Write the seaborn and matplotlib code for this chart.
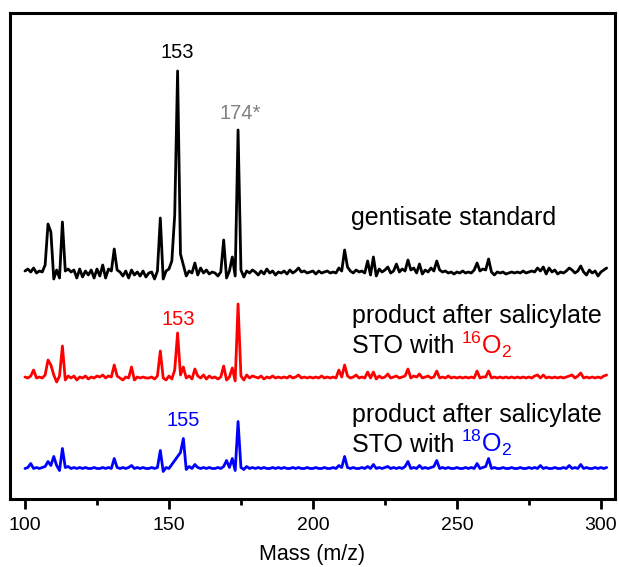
import numpy as np
import pandas as pd
import matplotlib
matplotlib.use("Agg")
import matplotlib.pyplot as plt
import seaborn as sns
from matplotlib.ticker import MultipleLocator

# m/z grid (1 unit steps)
mass = list(range(100, 303))

# relative ion intensities (a.u.)
gentisate = [
    2, 4, 1, 5, 0, 2, 1, 8, 49, 41,
    -6, 3, -5, 51, 2, 4, 1, 3, -5, 4,
    -4, 2, -2, 3, -5, 4, -3, 8, -5, 4,
    2, 24, 3, 1, -3, 2, -5, 3, -2, 1,
    -3, 2, -4, 0, 1, -6, 2, 55, -6, 2,
    4, 12, 58, 202, 19, 8, -3, 2, 0, 10,
    -2, 5, 0, 3, -1, 1, 0, -3, 1, 33,
    -5, 2, 16, -3, 143, 3, -4, 2, 0, 3,
    1, -2, 2, -1, 4, 0, 2, -2, 1, 0,
    2, -1, 3, 0, 2, 5, 1, 2, 0, 1,
    2, -1, 2, 0, 1, 2, 0, 1, 0, 5,
    2, 23, 6, 2, 0, 3, 1, 2, 0, 12,
    -2, 16, -3, 4, 1, 3, 6, 0, 2, 9,
    1, 4, 2, 13, 3, 5, 0, 9, -1, 3,
    1, 5, 2, 12, 3, 1, 2, 0, 1, -1,
    1, 0, 2, 0, 1, 0, 3, 10, 2, 4,
    3, 14, 1, -2, 1, 0, 1, -1, 0, 1,
    0, 1, 0, 2, 0, 1, 2, 1, 5, 2,
    6, -1, 5, 1, 3, -1, 1, 0, 2, 5,
    3, 0, 2, 7, 1, -2, 3, 0, 2, -3,
    1, 3, 5,
]

product_16o = [
    1, 0, 2, 8, 0, 1, 0, 3, 18, 13,
    3, -4, 2, 32, -2, 2, 0, 2, -2, 1,
    0, 2, -1, 1, 0, 2, 1, 3, 0, 2,
    1, 13, 2, 0, -2, 1, 0, 11, -2, 1,
    0, 1, 0, 0, 1, -1, 2, 27, 0, -2,
    2, -1, 8, 45, 3, 11, 0, 2, -1, 9,
    2, 0, 3, -1, 2, 0, 1, -1, 1, 12,
    -2, 1, 10, -3, 74, 2, -2, 3, 0, 2,
    1, 0, 2, -1, 1, 0, 2, 0, 1, 0,
    1, 0, 2, 0, 1, 3, 0, 1, 0, 1,
    0, 1, 0, 2, 0, 1, 0, 1, 0, 8,
    1, 13, 2, 0, 1, 3, 0, 1, 0, 6,
    0, 6, -1, 2, 0, 1, 4, 0, 1, 2,
    0, 1, 2, 9, 0, 2, 1, 4, 0, 1,
    2, 0, 1, 7, 0, 1, 0, 2, 0, 1,
    0, 1, 0, 1, 0, 1, 0, 7, 0, 1,
    1, 7, 0, 1, 0, 1, 0, 1, 0, 1,
    0, 1, 0, 1, 0, 1, 0, 2, 3, 0,
    3, 0, 1, 0, 1, 0, 1, 0, 1, 2,
    3, 0, 2, 5, 0, 1, 0, 1, 0, 1,
    0, 2, 3,
]

product_18o = [
    0, 1, 5, 0, 1, 0, 1, 2, 7, 3,
    12, 3, -2, 20, 1, 2, 0, 1, 0, 1,
    0, 1, 0, 0, 1, 0, 0, 1, 0, 1,
    0, 10, 1, 0, 1, 0, 1, 3, 0, 1,
    0, 1, 0, 0, 1, 0, 1, 18, -3, 1,
    0, 4, 8, 12, 16, 30, -1, 2, 0, 4,
    1, 0, 1, 0, 1, 0, 0, 1, 0, 2,
    8, 1, 10, -2, 47, 1, -1, 2, 0, 1,
    0, 1, 0, 1, 0, 0, 1, 0, 1, 0,
    1, 0, 0, 1, 0, 1, 0, 0, 1, 0,
    0, 1, 0, 0, 1, 0, 0, 1, 0, 3,
    1, 12, 1, 0, 1, 0, 0, 1, 0, 2,
    0, 4, 0, 1, 0, 1, 2, 0, 1, 0,
    1, 0, 2, 7, 0, 1, 0, 3, 0, 1,
    0, 1, 2, 8, 0, 1, 0, 1, 0, 0,
    1, 0, 0, 1, 0, 1, 0, 5, 0, 1,
    2, 10, 0, 1, 0, 0, 1, 0, 0, 1,
    0, 0, 1, 0, 0, 1, 0, 1, 0, 3,
    0, 1, 0, 0, 1, 0, 0, 1, 0, 3,
    0, 1, 0, 4, 0, 1, 0, 0, 1, 0,
    1, 0, 1,
]

samples = ["gentisate", "16O2", "18O2"]
series = [gentisate, product_16o, product_18o]
colors = ["black", "#ff0000", "#0000ff"]
offsets = [226, 121, 30.5]          # vertical stacking of the spectra

sns.set_theme(style="ticks")
plt.rcParams["font.family"] = ["Liberation Sans", "DejaVu Sans"]
plt.rcParams["mathtext.fontset"] = "custom"
plt.rcParams["mathtext.rm"] = "Liberation Sans"
plt.rcParams["mathtext.it"] = "Liberation Sans:italic"
plt.rcParams["text.color"] = "black"
plt.rcParams["axes.labelcolor"] = "black"
plt.rcParams["xtick.color"] = "black"
plt.rcParams["xtick.labelcolor"] = "black"

frames = []
for name, vals, off in zip(samples, series, offsets):
    frames.append(pd.DataFrame({"mass": mass,
                                "signal": np.asarray(vals, float) + off,
                                "sample": name}))
df = pd.concat(frames, ignore_index=True)

fig = plt.figure(figsize=(6.19, 5.67), dpi=100)
ax = fig.add_axes([10 / 619, 1 - 499 / 567, 605 / 619, 486 / 567])

sns.lineplot(data=df, x="mass", y="signal", hue="sample", hue_order=samples,
             palette=colors, estimator=None, sort=False, legend=False,
             linewidth=2.0, ax=ax)

ax.set_xlim(94.8, 304.9)
ax.set_ylim(0, 486)
ax.xaxis.set_major_locator(MultipleLocator(50))
ax.xaxis.set_minor_locator(MultipleLocator(25))
ax.tick_params(axis="x", which="major", direction="out", length=7, width=2,
               labelsize=14, pad=6, colors="black")
ax.tick_params(axis="x", which="minor", direction="out", length=4, width=2,
               colors="black")
ax.tick_params(axis="y", left=False, labelleft=False)
ax.set_ylabel("")
ax.set_xlabel("Mass (m/z)", fontsize=15.5, labelpad=7, color="black")
for sp in ax.spines.values():
    sp.set_visible(True)
    sp.set_linewidth(2.2)
    sp.set_color("black")

# peak labels
ax.text(153, 440.7, "153", ha="center", va="baseline", fontsize=14.5, color="black")
ax.text(174.6, 379.7, "174*", ha="center", va="baseline", fontsize=14.5, color="#808080")
ax.text(153.1, 174, "153", ha="center", va="baseline", fontsize=14.5, color="#ff0000")
ax.text(155, 73, "155", ha="center", va="baseline", fontsize=14.5, color="#0000ff")

# sample descriptions
fs = 18
ax.text(213.2, 274, "gentisate standard", ha="left", va="baseline", fontsize=fs, color="black")
ax.text(213.4, 175.7, "product after salicylate", ha="left", va="baseline", fontsize=fs, color="black")
ax.text(213.4, 76.7, "product after salicylate", ha="left", va="baseline", fontsize=fs, color="black")

fig.canvas.draw()
renderer = fig.canvas.get_renderer()


def two_tone(x, y, plain, isotope, color):
    t = ax.text(x, y, plain, ha="left", va="baseline", fontsize=fs, color="black")
    w = t.get_window_extent(renderer=renderer).width * 72 / fig.dpi
    ax.annotate(isotope, xy=(x, y), xycoords="data", xytext=(w + 5, 0),
                textcoords="offset points", ha="left", va="baseline",
                fontsize=fs, color=color)


two_tone(213.4, 145.7, "STO with", r"$^{16}\mathrm{O}_{2}$", "#ff0000")
two_tone(213.4, 47.3, "STO with", r"$^{18}\mathrm{O}_{2}$", "#0000ff")

fig.savefig("out.png", dpi=100)
